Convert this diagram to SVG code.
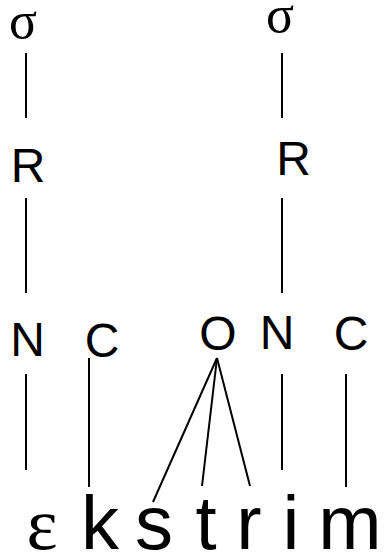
<svg xmlns="http://www.w3.org/2000/svg" width="385" height="556" viewBox="0 0 385 556">
<style>
.lbl{font-family:"Liberation Sans",Arial,sans-serif;font-size:48px;fill:#000;text-anchor:middle}
.grk{font-family:"Liberation Serif","Times New Roman",serif;fill:#000;text-anchor:middle}
.seg{font-family:"Liberation Sans",Arial,sans-serif;font-size:76px;fill:#000;text-anchor:middle}
.ln{stroke:#000;stroke-width:2;fill:none}
</style>
<rect width="385" height="556" fill="#fff"/>
<g id="connectors">
<line class="ln" x1="26" y1="53" x2="26" y2="118"/>
<line class="ln" x1="282" y1="53" x2="282" y2="118"/>
<line class="ln" x1="26" y1="198" x2="26" y2="293"/>
<line class="ln" x1="282" y1="198" x2="282" y2="293"/>
<line class="ln" x1="26" y1="374" x2="26" y2="470"/>
<line class="ln" x1="282" y1="374" x2="282" y2="470"/>
<line class="ln" x1="89" y1="358" x2="89" y2="487"/>
<line class="ln" x1="346" y1="374" x2="346" y2="487"/>
<line class="ln" x1="217" y1="358" x2="153" y2="502"/>
<line class="ln" x1="217" y1="358" x2="202" y2="486"/>
<line class="ln" x1="217" y1="358" x2="250" y2="486"/>
</g>
<g id="sigma1"><text class="grk" x="23" y="38" font-size="52">σ</text></g>
<g id="sigma2"><text class="grk" x="280" y="32" font-size="52">σ</text></g>
<g id="R1"><text class="lbl" x="28" y="182">R</text></g>
<g id="R2"><text class="lbl" x="293.5" y="175">R</text></g>
<g id="N1"><text class="lbl" x="27.5" y="356">N</text></g>
<g id="C1"><text class="lbl" x="102" y="357">C</text></g>
<g id="O"><text class="lbl" x="218" y="350">O</text></g>
<g id="N2"><text class="lbl" x="277" y="349">N</text></g>
<g id="C2"><text class="lbl" x="351" y="350">C</text></g>
<g id="seg-e"><text class="grk" x="42" y="549" font-size="74">ε</text></g>
<g id="seg-k"><text class="seg" x="100" y="549">k</text></g>
<g id="seg-s"><text class="seg" x="154" y="549">s</text></g>
<g id="seg-t"><text class="seg" x="206" y="549">t</text></g>
<g id="seg-r"><text class="seg" x="249" y="549">r</text></g>
<g id="seg-i"><text class="seg" x="291" y="549">i</text></g>
<g id="seg-m"><text class="seg" x="350" y="549">m</text></g>
</svg>
